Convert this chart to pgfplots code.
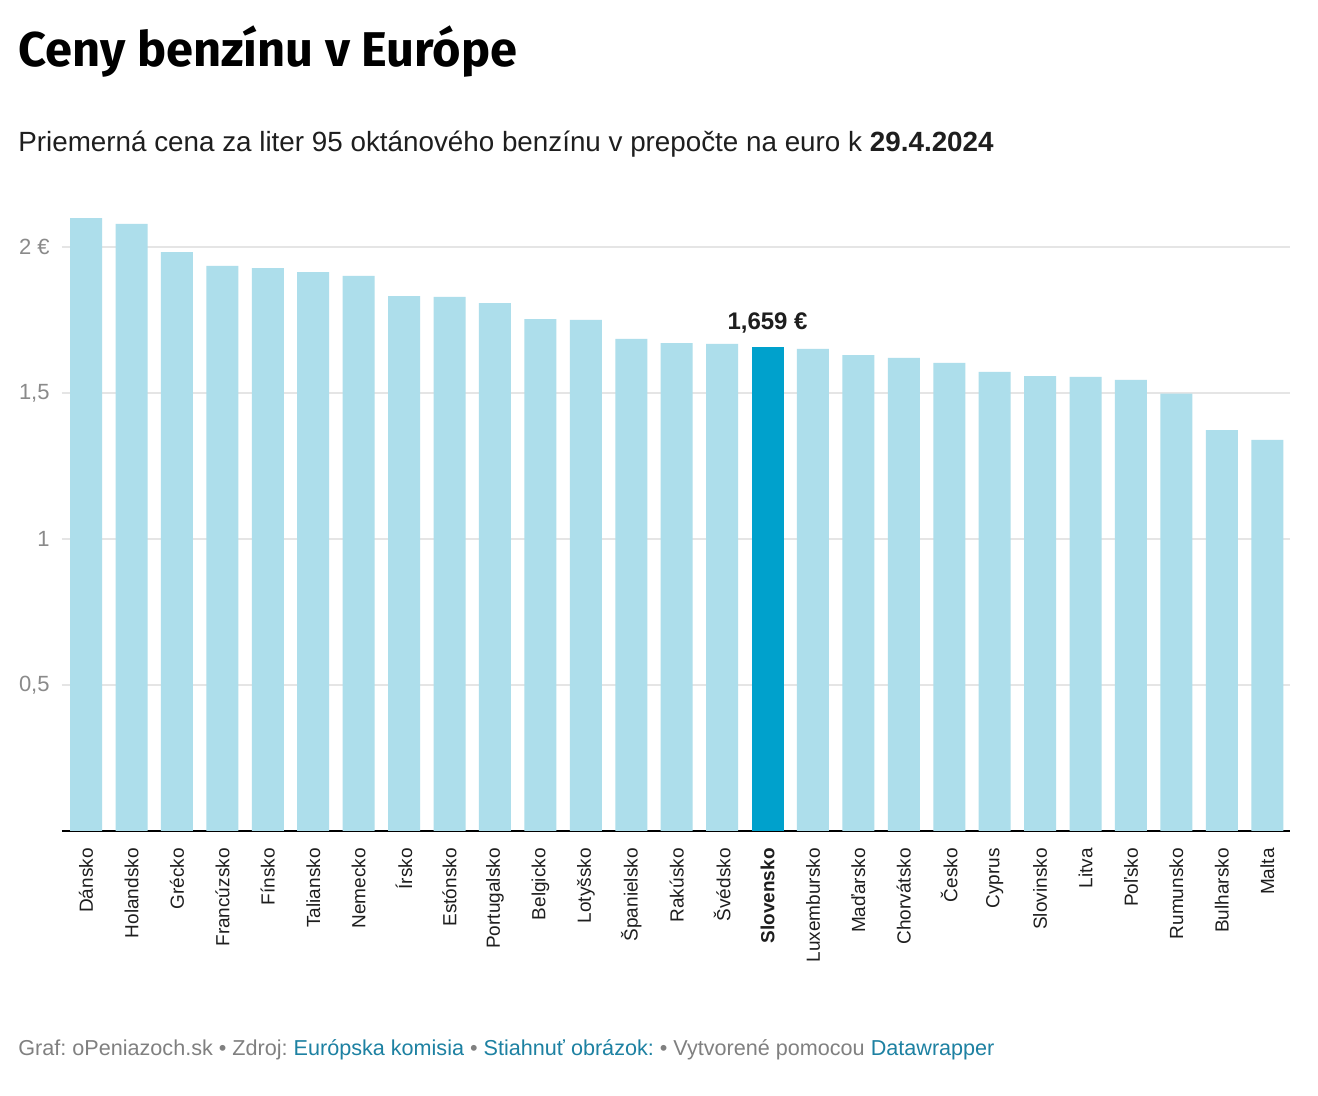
\documentclass[border=0pt]{standalone}
\usepackage{fontspec}
\setmainfont{Liberation Sans}
\newfontfamily\titlefont{Fira Sans}
\usepackage{pgfplots}
\usepackage{pgfplotstable}
\pgfplotsset{compat=1.18}
\frenchspacing

\definecolor{barlight}{RGB}{173,222,235}
\definecolor{bardark}{RGB}{0,161,204}
\definecolor{gridc}{RGB}{229,229,229}
\definecolor{tickgray}{RGB}{138,138,138}
\definecolor{footgray}{RGB}{128,128,128}
\definecolor{linkblue}{RGB}{29,129,162}
\definecolor{textdark}{RGB}{30,30,30}

\pgfplotstableread{
x y
0 2.099
1 2.079
2 1.982
3 1.935
4 1.928
5 1.914
6 1.901
7 1.832
8 1.829
9 1.808
10 1.753
11 1.750
12 1.685
13 1.671
14 1.668
16 1.651
17 1.630
18 1.620
19 1.603
20 1.572
21 1.558
22 1.555
23 1.545
24 1.498
25 1.373
26 1.339
}\others

\begin{document}
\begin{tikzpicture}
\useasboundingbox (0,0) rectangle (659pt,548pt);
\fill[white] (0,0) rectangle (659pt,548pt);
\node[anchor=base west, inner sep=0pt] at (9pt,514.5pt) {\titlefont\bfseries\fontsize{24.4}{29}\selectfont Ceny benzínu v Európe};
\node[anchor=base west, inner sep=0pt, text=textdark] at (9pt,472pt) {\fontsize{13.9}{16}\selectfont Priemerná cena za liter 95 oktánového benzínu v prepočte na euro k \textbf{29.4.2024}};
\begin{axis}[at={(31pt,132.5pt)}, anchor=south west, scale only axis,
  width=614pt, height=313.9pt,
  xmin=-0.53, xmax=26.5, ymin=0, ymax=2.15,
  axis x line*=bottom, axis y line*=left,
  y axis line style={draw=none},
  x axis line style={-, line width=0.7pt, black},
  ytick={0.5,1,1.5,2}, yticklabels={{0,5},{1},{1,5},{2 €}},
  ymajorgrids, grid style={gridc, line width=0.6pt},
  major tick length=0pt,
  yticklabel style={font=\fontsize{11}{13}\selectfont, text=tickgray, anchor=east, inner sep=0pt, xshift=-6pt},
  xtick={0,...,26},
  xticklabels={Dánsko,Holandsko,Grécko,Francúzsko,Fínsko,Taliansko,Nemecko,Írsko,Estónsko,Portugalsko,Belgicko,Lotyšsko,Španielsko,Rakúsko,Švédsko,\textbf{Slovensko},Luxembursko,Maďarsko,Chorvátsko,Česko,Cyprus,Slovinsko,Litva,Poľsko,Rumunsko,Bulharsko,Malta},
  xticklabel style={font=\fontsize{9.5}{11}\selectfont, text=textdark, rotate=90, anchor=east, inner sep=0pt},
  xticklabel shift=8.5pt,
  ybar, bar width=16pt, bar shift=0pt,
  clip=false]
\addplot[fill=barlight, draw=none] table[x=x,y=y] {\others};
\addplot[fill=bardark, draw=none, nodes near coords={\textbf{1,659 €}},
  nodes near coords style={font=\fontsize{12}{14}\selectfont, text=textdark, anchor=base, inner sep=0pt, yshift=8.5pt}]
  coordinates {(15,1.659)};
\end{axis}
\node[anchor=base west, inner sep=0pt, text=footgray] at (9pt,20pt) {\fontsize{10.8}{13}\selectfont Graf: oPeniazoch.sk • Zdroj: \textcolor{linkblue}{Európska komisia} • \textcolor{linkblue}{Stiahnuť obrázok:} • Vytvorené pomocou \textcolor{linkblue}{Datawrapper}};
\end{tikzpicture}
\end{document}
